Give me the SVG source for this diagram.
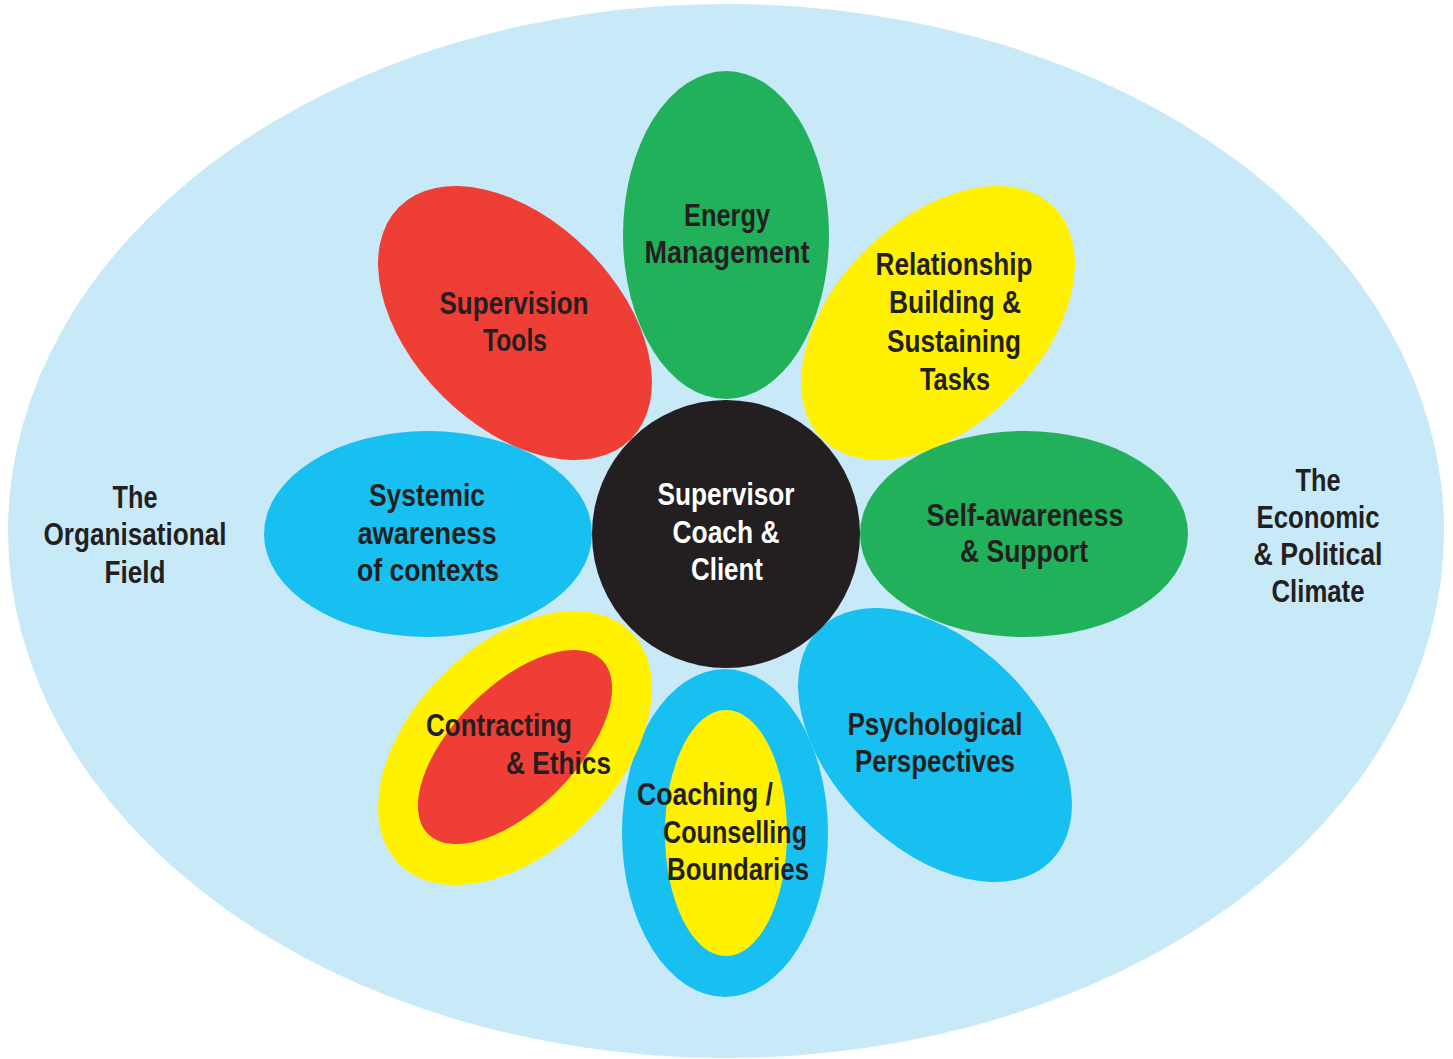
<svg xmlns="http://www.w3.org/2000/svg" width="1453" height="1059" viewBox="0 0 1453 1059">
<style>
.t{font-family:"Liberation Sans",Arial,"DejaVu Sans Condensed",sans-serif;font-weight:bold;font-size:32px;fill:#231F20}
.w{fill:#FFFFFF}
.m{text-anchor:middle}
.bg{fill:#C8E9F8}
.blue{fill:#17C0F0}
.green{fill:#22B15B}
.yellow{fill:#FFF100}
.red{fill:#EE3E35}
.dark{fill:#231F20}
</style>
<rect width="1453" height="1059" fill="#FFFFFF"/>
<g id="field">
<ellipse class="bg" cx="726" cy="531" rx="718" ry="527"/>
<text class="t m" x="135" y="508" textLength="45" lengthAdjust="spacingAndGlyphs">The</text>
<text class="t m" x="135" y="545" textLength="183" lengthAdjust="spacingAndGlyphs">Organisational</text>
<text class="t m" x="135" y="583" textLength="61" lengthAdjust="spacingAndGlyphs">Field</text>
<text class="t m" x="1318" y="491" textLength="45" lengthAdjust="spacingAndGlyphs">The</text>
<text class="t m" x="1318" y="528" textLength="123" lengthAdjust="spacingAndGlyphs">Economic</text>
<text class="t m" x="1318" y="565" textLength="129" lengthAdjust="spacingAndGlyphs">&amp; Political</text>
<text class="t m" x="1318" y="602" textLength="93" lengthAdjust="spacingAndGlyphs">Climate</text>
</g>
<g id="energy">
<ellipse class="green" cx="726" cy="235" rx="103" ry="164"/>
<text class="t m" x="727" y="226" textLength="86" lengthAdjust="spacingAndGlyphs">Energy</text>
<text class="t m" x="727" y="263" textLength="165" lengthAdjust="spacingAndGlyphs">Management</text>
</g>
<g id="relationship">
<ellipse class="yellow" cx="938" cy="323" rx="164" ry="103" transform="rotate(-45 938 323)"/>
<text class="t m" x="954" y="275" textLength="157" lengthAdjust="spacingAndGlyphs">Relationship</text>
<text class="t m" x="955" y="313" textLength="132" lengthAdjust="spacingAndGlyphs">Building &amp;</text>
<text class="t m" x="954" y="352" textLength="134" lengthAdjust="spacingAndGlyphs">Sustaining</text>
<text class="t m" x="955" y="390" textLength="70" lengthAdjust="spacingAndGlyphs">Tasks</text>
</g>
<g id="selfawareness">
<ellipse class="green" cx="1024" cy="534" rx="164" ry="103"/>
<text class="t m" x="1025" y="526" textLength="197" lengthAdjust="spacingAndGlyphs">Self-awareness</text>
<text class="t m" x="1024" y="562" textLength="128" lengthAdjust="spacingAndGlyphs">&amp; Support</text>
</g>
<g id="psychological">
<ellipse class="blue" cx="935" cy="745" rx="164" ry="103" transform="rotate(45 935 745)"/>
<text class="t m" x="935" y="735" textLength="175" lengthAdjust="spacingAndGlyphs">Psychological</text>
<text class="t m" x="935" y="772" textLength="160" lengthAdjust="spacingAndGlyphs">Perspectives</text>
</g>
<g id="coaching">
<ellipse class="blue" cx="725" cy="833" rx="103" ry="164"/>
<ellipse class="yellow" cx="726" cy="833" rx="61" ry="123"/>
<text class="t" x="637" y="805" textLength="136" lengthAdjust="spacingAndGlyphs">Coaching /</text>
<text class="t" x="663" y="843" textLength="144" lengthAdjust="spacingAndGlyphs">Counselling</text>
<text class="t" x="667" y="880" textLength="142" lengthAdjust="spacingAndGlyphs">Boundaries</text>
</g>
<g id="contracting">
<ellipse class="yellow" cx="515" cy="748" rx="164" ry="103" transform="rotate(-45 515 748)"/>
<ellipse class="red" cx="515" cy="747" rx="123" ry="61" transform="rotate(-45 515 747)"/>
<text class="t" x="426" y="736" textLength="146" lengthAdjust="spacingAndGlyphs">Contracting</text>
<text class="t" x="506" y="774" textLength="105" lengthAdjust="spacingAndGlyphs">&amp; Ethics</text>
</g>
<g id="systemic">
<ellipse class="blue" cx="428" cy="534" rx="164" ry="103"/>
<text class="t m" x="427" y="506" textLength="116" lengthAdjust="spacingAndGlyphs">Systemic</text>
<text class="t m" x="427" y="544" textLength="139" lengthAdjust="spacingAndGlyphs">awareness</text>
<text class="t m" x="428" y="581" textLength="142" lengthAdjust="spacingAndGlyphs">of contexts</text>
</g>
<g id="tools">
<ellipse class="red" cx="515" cy="323" rx="164" ry="103" transform="rotate(45 515 323)"/>
<text class="t m" x="514" y="314" textLength="149" lengthAdjust="spacingAndGlyphs">Supervision</text>
<text class="t m" x="515" y="351" textLength="64" lengthAdjust="spacingAndGlyphs">Tools</text>
</g>
<g id="center">
<circle class="dark" cx="726" cy="534" r="134"/>
<text class="t m w" x="726" y="505" textLength="137" lengthAdjust="spacingAndGlyphs">Supervisor</text>
<text class="t m w" x="726" y="543" textLength="107" lengthAdjust="spacingAndGlyphs">Coach &amp;</text>
<text class="t m w" x="727" y="580" textLength="72" lengthAdjust="spacingAndGlyphs">Client</text>
</g>
<g id="connectors"></g>
</svg>
